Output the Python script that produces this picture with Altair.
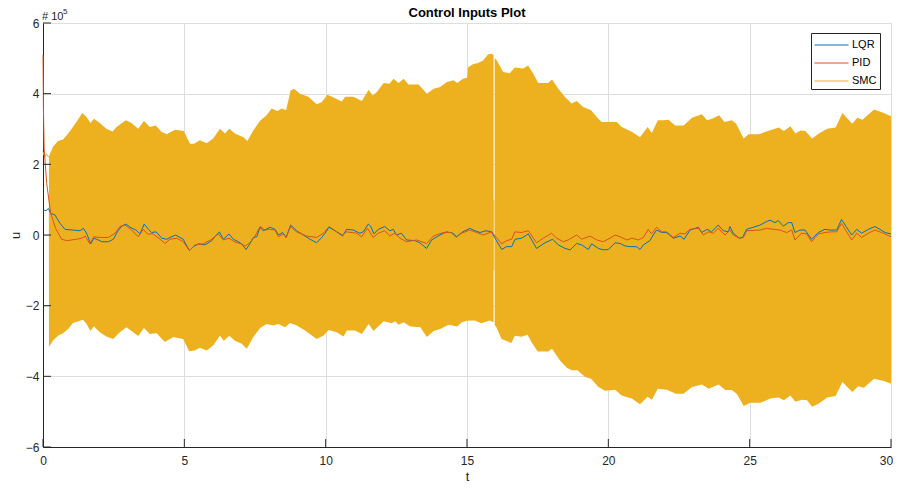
import altair as alt
import pandas as pd

# ---- data (u values in units of 1e5) ----
lqr_t = [0.00, 0.11, 0.19, 0.27, 0.42, 0.60, 0.78, 1.07, 1.31, 1.43, 1.54, 1.69, 1.80, 1.90, 2.08, 2.31, 2.49, 2.63, 2.78, 2.94,
         3.08, 3.29, 3.43, 3.58, 3.73, 3.84, 4.00, 4.20, 4.38, 4.49, 4.69, 4.96, 5.18, 5.32, 5.50, 5.73, 5.97, 6.08, 6.24, 6.38,
         6.58, 6.73, 6.91, 7.03, 7.18, 7.32, 7.44, 7.56, 7.68, 7.79, 8.03, 8.21, 8.33, 8.48, 8.60, 8.76, 8.97, 9.21, 9.45, 9.68,
         9.86, 9.98, 10.12, 10.39, 10.60, 10.74, 10.98, 11.21, 11.33, 11.51, 11.59, 11.71, 11.86, 12.09, 12.27, 12.39, 12.51, 12.68, 12.86, 13.16,
         13.33, 13.57, 13.75, 14.04, 14.28, 14.51, 14.63, 14.81, 15.10, 15.28, 15.46, 15.67, 15.87, 15.99, 16.23, 16.40, 16.58, 16.70, 16.93, 17.17,
         17.46, 17.76, 18.03, 18.23, 18.47, 18.65, 18.88, 19.06, 19.29, 19.41, 19.65, 19.82, 20.00, 20.24, 20.42, 20.59, 20.77, 21.00, 21.12, 21.24,
         21.47, 21.59, 21.71, 21.89, 22.06, 22.30, 22.54, 22.68, 22.89, 23.19, 23.30, 23.50, 23.65, 23.89, 24.07, 24.25, 24.30, 24.42, 24.63, 24.75,
         24.89, 25.13, 25.36, 25.60, 25.72, 25.90, 26.01, 26.19, 26.37, 26.49, 26.60, 26.78, 26.96, 27.19, 27.43, 27.66, 27.84, 28.08, 28.25, 28.41,
         28.61, 28.79, 28.96, 29.20, 29.43, 29.61, 29.79, 30.00]
lqr_u = [0.71, 0.69, 0.75, 0.61, 0.57, 0.33, 0.16, 0.14, 0.12, 0.19, 0.05, -0.25, -0.09, -0.12, -0.19, -0.19, -0.12, 0.09, 0.25, 0.31,
         0.22, 0.14, 0.03, 0.31, 0.16, 0.07, 0.09, -0.09, -0.12, -0.07, 0.00, -0.12, -0.44, -0.33, -0.25, -0.28, -0.16, -0.05, 0.09, -0.12,
         0.03, -0.12, -0.19, -0.25, -0.41, -0.25, -0.07, -0.05, 0.22, 0.12, 0.22, 0.16, 0.00, 0.07, -0.07, 0.28, 0.12, 0.00, -0.12, -0.22,
         -0.07, 0.05, 0.22, 0.09, -0.03, 0.16, 0.14, 0.05, 0.09, 0.31, 0.25, 0.03, 0.16, 0.24, 0.12, 0.16, 0.00, 0.05, -0.14, -0.16,
         -0.22, -0.38, -0.14, 0.00, 0.09, 0.05, -0.05, 0.07, 0.19, 0.12, 0.07, 0.12, 0.09, -0.09, -0.41, -0.33, -0.33, -0.12, -0.09, 0.03,
         -0.38, -0.22, -0.12, -0.28, -0.38, -0.42, -0.24, -0.28, -0.41, -0.25, -0.38, -0.42, -0.41, -0.22, -0.24, -0.31, -0.33, -0.33, -0.41, -0.28,
         -0.16, 0.00, 0.14, 0.07, 0.07, -0.09, -0.03, -0.12, 0.14, 0.22, 0.07, 0.16, 0.09, 0.28, 0.12, 0.09, 0.24, 0.05, -0.09, -0.07,
         0.16, 0.22, 0.28, 0.38, 0.42, 0.35, 0.41, 0.25, 0.35, 0.35, 0.07, 0.14, 0.14, -0.12, 0.07, 0.16, 0.14, 0.14, 0.44, 0.24,
         0.00, 0.16, 0.05, 0.16, 0.24, 0.16, 0.07, 0.03]

pid_t = [0.00, 0.015, 0.04, 0.13, 0.27, 0.45, 0.66, 0.84, 1.19, 1.37, 1.49, 1.66, 1.80, 2.02, 2.31, 2.55, 2.72, 2.90, 3.14, 3.37,
         3.55, 3.69, 3.90, 4.14, 4.32, 4.49, 4.73, 4.96, 5.18, 5.38, 5.67, 5.97, 6.20, 6.38, 6.58, 6.76, 6.97, 7.15, 7.32, 7.50,
         7.68, 7.85, 8.03, 8.21, 8.33, 8.50, 8.60, 8.76, 8.97, 9.33, 9.68, 9.92, 10.12, 10.39, 10.60, 10.74, 11.10, 11.27, 11.48, 11.68,
         11.86, 12.09, 12.27, 12.45, 12.63, 12.86, 13.22, 13.57, 13.81, 14.16, 14.45, 14.61, 14.81, 15.10, 15.34, 15.58, 15.87, 16.04, 16.23, 16.40,
         16.58, 16.70, 16.93, 17.17, 17.46, 17.70, 17.99, 18.17, 18.41, 18.58, 18.88, 19.06, 19.35, 19.59, 19.82, 20.06, 20.24, 20.42, 20.65, 20.83,
         21.06, 21.24, 21.41, 21.53, 21.71, 21.89, 22.06, 22.30, 22.54, 22.71, 22.89, 23.19, 23.36, 23.54, 23.71, 23.89, 24.13, 24.30, 24.42, 24.63,
         24.78, 24.89, 25.36, 25.60, 25.84, 26.07, 26.31, 26.49, 26.60, 26.84, 27.02, 27.19, 27.43, 27.66, 27.90, 28.08, 28.25, 28.43, 28.61, 28.79,
         28.96, 29.20, 29.43, 29.67, 30.00]
pid_u = [5.10, 3.60, 2.45, 1.46, 0.62, 0.18, -0.12, -0.16, -0.12, -0.09, -0.03, -0.25, -0.05, -0.07, -0.07, 0.05, 0.24, 0.28, 0.14, -0.05,
         0.16, 0.03, 0.03, -0.12, -0.24, -0.12, -0.09, -0.19, -0.44, -0.28, -0.25, -0.12, 0.03, -0.14, -0.09, -0.19, -0.24, -0.31, -0.22, -0.03,
         0.24, 0.14, 0.16, 0.14, -0.05, 0.03, -0.07, 0.24, 0.09, -0.03, -0.07, 0.05, 0.24, 0.09, 0.00, 0.09, 0.05, -0.05, 0.19, -0.07,
         0.05, 0.12, -0.03, 0.05, -0.09, -0.19, -0.14, -0.24, -0.03, 0.07, 0.07, -0.07, 0.05, 0.14, 0.07, 0.00, 0.09, -0.07, -0.25, -0.16,
         -0.12, 0.09, 0.07, 0.12, -0.22, -0.09, 0.05, -0.09, -0.19, -0.14, 0.00, -0.12, -0.03, -0.14, -0.19, -0.09, 0.00, -0.05, -0.14, -0.09,
         -0.14, -0.07, 0.16, 0.03, 0.22, 0.09, 0.09, -0.07, 0.05, 0.03, 0.16, 0.19, 0.00, 0.09, 0.05, 0.19, 0.00, 0.14, 0.00, -0.09,
         -0.07, 0.12, 0.14, 0.19, 0.16, 0.14, 0.07, 0.14, -0.14, 0.05, 0.03, -0.19, 0.03, 0.07, 0.09, 0.09, 0.33, 0.09, -0.14, 0.05,
         -0.07, 0.05, 0.14, 0.07, -0.05]

# SMC before the switching starts (plain line)
smc_start_t = [0.00, 0.06, 0.12, 0.18, 0.21]
smc_start_u = [2.36, 2.20, 2.30, 2.22, 2.22]

# SMC switching envelope: upper edge, two pieces (white gap near t = 16)
smc_hi_t1 = [0.21, 0.35, 0.53, 0.71, 0.94, 1.18, 1.39, 1.54, 1.68, 1.80, 2.01, 2.24, 2.46, 2.60, 2.93, 3.13, 3.37, 3.57, 3.78, 3.99,
             4.19, 4.37, 4.67, 4.98, 5.20, 5.34, 5.55, 5.79, 6.02, 6.26, 6.44, 6.59, 6.79, 7.09, 7.23, 7.44, 7.68, 7.91, 8.09, 8.29,
             8.45, 8.60, 8.76, 8.88, 9.09, 9.39, 9.68, 9.86, 10.06, 10.28, 10.57, 10.69, 10.98, 11.28, 11.52, 11.66, 11.81, 12.05, 12.26, 12.40,
             12.58, 12.76, 12.93, 13.29, 13.58, 13.82, 14.05, 14.29, 14.53, 14.65, 14.86, 15.00, 15.04, 15.21, 15.39, 15.57, 15.74, 15.86, 15.94]
smc_hi_u1 = [2.22, 2.49, 2.66, 2.70, 2.92, 3.20, 3.45, 3.34, 3.17, 3.29, 3.17, 3.01, 2.93, 3.06, 3.25, 3.17, 3.01, 3.23, 3.06, 3.10,
             2.92, 2.85, 2.98, 2.94, 2.58, 2.58, 2.68, 2.60, 2.73, 3.01, 2.87, 3.01, 2.87, 2.77, 2.66, 2.96, 3.23, 3.39, 3.58, 3.51,
             3.58, 3.53, 4.09, 4.14, 4.00, 3.91, 3.70, 3.76, 3.97, 3.89, 3.78, 3.91, 3.91, 3.79, 4.11, 3.95, 4.05, 4.30, 4.28, 4.42,
             4.30, 4.42, 4.26, 4.26, 4.00, 4.14, 4.19, 4.33, 4.38, 4.30, 4.42, 4.45, 4.75, 4.83, 4.87, 4.94, 5.11, 5.13, 5.10]
smc_hi_t2 = [15.98, 16.04, 16.28, 16.51, 16.69, 16.99, 17.16, 17.34, 17.52, 17.87, 18.01, 18.23, 18.46, 18.70, 18.88, 19.11, 19.39, 19.59, 19.76, 20.00,
             20.30, 20.47, 20.83, 21.12, 21.39, 21.54, 21.75, 21.95, 22.13, 22.36, 22.66, 22.96, 23.31, 23.49, 23.67, 23.92, 24.11, 24.37, 24.52, 24.79,
             24.96, 25.32, 25.70, 26.03, 26.21, 26.44, 26.62, 26.80, 26.97, 27.21, 27.45, 27.74, 28.04, 28.28, 28.63, 28.81, 28.99, 29.40, 29.75, 30.00]
smc_hi_u2 = [5.00, 4.96, 4.61, 4.58, 4.74, 4.71, 4.80, 4.57, 4.30, 4.30, 4.40, 4.14, 3.91, 3.72, 3.79, 3.62, 3.53, 3.34, 3.20, 3.20,
             3.20, 3.06, 2.92, 2.77, 3.06, 2.89, 3.25, 3.25, 3.26, 3.10, 3.10, 3.32, 3.42, 3.25, 3.29, 3.39, 3.20, 3.25, 3.15, 2.73,
             2.85, 2.85, 2.96, 3.04, 2.94, 3.08, 2.87, 2.96, 2.94, 2.73, 2.87, 3.01, 3.04, 3.45, 3.15, 3.32, 3.26, 3.55, 3.45, 3.36]

# lower edge
smc_lo_t1 = [0.21, 0.35, 0.53, 0.71, 0.89, 1.06, 1.42, 1.54, 1.68, 1.80, 2.01, 2.24, 2.48, 2.72, 2.95, 3.19, 3.37, 3.57, 3.78, 4.02,
             4.31, 4.61, 4.96, 5.17, 5.37, 5.55, 5.79, 6.02, 6.26, 6.40, 6.59, 6.79, 7.03, 7.21, 7.44, 7.68, 7.91, 8.15, 8.33, 8.56,
             8.74, 8.98, 9.27, 9.68, 9.92, 10.10, 10.39, 10.63, 10.75, 11.04, 11.28, 11.52, 11.69, 12.05, 12.34, 12.46, 12.58, 12.76, 12.99, 13.35,
             13.58, 13.82, 14.05, 14.35, 14.65, 14.82, 15.00, 15.27, 15.51, 15.80, 15.94]
smc_lo_u1 = [-3.17, -2.99, -2.85, -2.78, -2.66, -2.49, -2.40, -2.52, -2.72, -2.58, -2.75, -2.87, -2.94, -2.75, -2.61, -2.75, -2.86, -2.63, -2.80, -2.78,
             -3.03, -2.89, -2.94, -3.29, -3.27, -3.19, -3.27, -3.13, -2.85, -2.99, -2.85, -2.99, -3.08, -3.22, -2.89, -2.63, -2.52, -2.56, -2.52, -2.61,
             -2.49, -2.56, -2.70, -2.94, -2.85, -2.69, -2.75, -2.87, -2.70, -2.70, -2.80, -2.52, -2.72, -2.44, -2.50, -2.44, -2.54, -2.47, -2.59, -2.61,
             -2.89, -2.72, -2.66, -2.54, -2.59, -2.47, -2.43, -2.42, -2.50, -2.42, -2.47]
smc_lo_t2 = [15.98, 16.04, 16.22, 16.40, 16.57, 16.69, 16.93, 17.14, 17.28, 17.50, 17.87, 18.01, 18.29, 18.53, 18.70, 18.91, 19.18, 19.39, 19.65, 19.89,
             20.24, 20.47, 20.83, 21.12, 21.39, 21.54, 21.75, 22.07, 22.39, 22.66, 22.96, 23.31, 23.55, 23.90, 24.14, 24.37, 24.55, 24.79, 25.02, 25.38,
             25.73, 26.03, 26.21, 26.44, 26.62, 26.85, 27.03, 27.21, 27.45, 27.74, 28.04, 28.28, 28.63, 28.84, 29.04, 29.40, 29.75, 30.00]
smc_lo_u2 = [-2.55, -2.61, -2.94, -3.00, -3.06, -2.85, -2.88, -2.82, -3.03, -3.30, -3.30, -3.22, -3.55, -3.76, -3.83, -3.83, -4.02, -4.07, -4.30, -4.41,
             -4.38, -4.54, -4.63, -4.79, -4.58, -4.66, -4.35, -4.38, -4.49, -4.49, -4.30, -4.23, -4.35, -4.23, -4.39, -4.39, -4.50, -4.84, -4.75, -4.75,
             -4.63, -4.60, -4.68, -4.54, -4.72, -4.66, -4.68, -4.86, -4.77, -4.60, -4.56, -4.16, -4.44, -4.28, -4.32, -4.07, -4.13, -4.21]

series_names = ["LQR", "PID", "SMC"]
series_colors = ["#0072BD", "#D95319", "#EDB120"]
x_ticks = [0, 5, 10, 15, 20, 25, 30]
y_ticks = [-6, -4, -2, 0, 2, 4, 6]
title_text = ["Control Inputs Plot"]
exp_text = ["# 10"]
exp_power = ["5"]

# ---- tables ----
lqr_df = pd.DataFrame({"t": lqr_t, "u": lqr_u, "series": "LQR"})
pid_df = pd.DataFrame({"t": pid_t, "u": pid_u, "series": "PID"})
smc0_df = pd.DataFrame({"t": smc_start_t, "u": smc_start_u, "series": "SMC"})
hi_df = pd.concat([pd.DataFrame({"t": smc_hi_t1, "u": smc_hi_u1, "seg": 1}),
                   pd.DataFrame({"t": smc_hi_t2, "u": smc_hi_u2, "seg": 2})])
lo_df = pd.concat([pd.DataFrame({"t": smc_lo_t1, "u": smc_lo_u1, "seg": 1}),
                   pd.DataFrame({"t": smc_lo_t2, "u": smc_lo_u2, "seg": 2})])

W, H = 848, 424
FONT = "Liberation Sans"
DARK = "#262626"
GRID = "#dedede"

xscale = alt.Scale(domain=[0, 30], nice=False, zero=False)
yscale = alt.Scale(domain=[-6, 6], nice=False, zero=False)

xaxis = alt.Axis(values=x_ticks, title="t", grid=True, gridColor=GRID, domainColor=DARK, ticks=False,
                 labelPadding=8, labelFontSize=12, labelColor=DARK, titleFontSize=13, titleFontWeight="normal",
                 titleColor=DARK, titlePadding=4, labelFlush=False,
                 labelOffset={"condition": {"test": "datum.value == 30", "value": -5}, "value": 0})
yaxis = alt.Axis(values=y_ticks, title="u", grid=True, gridColor=GRID, domainColor=DARK, ticks=False,
                 labelPadding=4, labelFontSize=12, labelColor=DARK, titleFontSize=13, titleFontWeight="normal",
                 titleColor=DARK, titlePadding=3, labelFlush=False)

color = alt.Color("series:N", scale=alt.Scale(domain=series_names, range=series_colors),
                  legend=alt.Legend(title=None, orient="none", legendX=768, legendY=10,
                                    symbolType="M-1,0H3", symbolSize=289, symbolStrokeWidth=1,
                                    labelOffset=20, labelFontSize=11, labelColor="#000000", labelFont=FONT,
                                    padding=3, rowPadding=4, strokeColor=DARK, fillColor="#ffffff",
                                    cornerRadius=0))

upper = alt.Chart(hi_df).mark_area(color="#EDB120", interpolate="linear").encode(
    x=alt.X("t:Q", scale=xscale, axis=xaxis),
    y=alt.Y("u:Q", scale=yscale, axis=yaxis),
    y2=alt.datum(-1),
    detail="seg:N",
)
lower = alt.Chart(lo_df).mark_area(color="#EDB120", interpolate="linear").encode(
    x=alt.X("t:Q", scale=xscale),
    y=alt.Y("u:Q", scale=yscale),
    y2=alt.datum(1),
    detail="seg:N",
)

def line(df):
    return alt.Chart(df).mark_line(strokeWidth=1).encode(
        x=alt.X("t:Q", scale=xscale),
        y=alt.Y("u:Q", scale=yscale),
        color=color,
    )

xt = alt.Chart(pd.DataFrame({"t": x_ticks})).mark_rule(color=DARK, strokeWidth=1).encode(
    x=alt.X("t:Q", scale=xscale), y=alt.value(H), y2=alt.value(H - 8))
yt = alt.Chart(pd.DataFrame({"u": y_ticks})).mark_rule(color=DARK, strokeWidth=1).encode(
    y=alt.Y("u:Q", scale=yscale), x=alt.value(0), x2=alt.value(8))

title = alt.Chart(pd.DataFrame({"s": title_text})).mark_text(
    align="center", baseline="alphabetic", fontSize=13, fontWeight="bold", font=FONT, color="#000000").encode(
    text="s:N", x=alt.value(W / 2), y=alt.value(-6))
exp_base = alt.Chart(pd.DataFrame({"s": exp_text})).mark_text(
    align="left", baseline="alphabetic", fontSize=11, font=FONT, color=DARK).encode(
    text="s:N", x=alt.value(-1), y=alt.value(-3))
exp_pow = alt.Chart(pd.DataFrame({"s": exp_power})).mark_text(
    align="left", baseline="alphabetic", fontSize=8, font=FONT, color=DARK).encode(
    text="s:N", x=alt.value(20), y=alt.value(-9))

chart = alt.layer(upper, lower, line(smc0_df), line(lqr_df), line(pid_df), xt, yt,
                  title, exp_base, exp_pow).properties(
    width=W, height=H,
    autosize=alt.AutoSizeParams(type="none"),
    padding={"left": 35, "top": 15, "right": 2, "bottom": 35},
).configure_view(stroke=None).configure(font=FONT)

chart.save("out.html", embed_options={"renderer": "svg", "actions": False})
